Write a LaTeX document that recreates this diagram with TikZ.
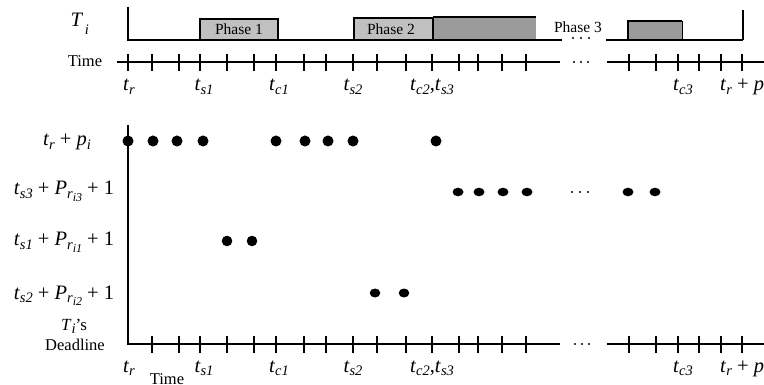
\documentclass[tikz,border=0pt]{standalone}
\usepackage{fontspec}
\setmainfont{Liberation Serif}
\newcommand\sbx[1]{\raisebox{-0.4ex}{\fontsize{14.5}{14}\selectfont\textit{#1}}}
\newcommand\ssbx[1]{\raisebox{-0.35ex}{\fontsize{12}{12}\selectfont\textit{#1}}}
\newcommand\tv[2]{\textit{#1}\sbx{#2}}
\definecolor{lightph}{RGB}{192,192,192}
\definecolor{darkph}{RGB}{155,155,155}
\begin{document}
\begin{tikzpicture}[x=1pt,y=-1pt,
  axis/.style={line width=2.8pt},
  tickmark/.style={line width=1.9pt},
  phaseline/.style={line width=2.5pt},
  lbl/.style={font=\fontsize{20.5}{22}\selectfont, inner sep=0pt, anchor=base},
  txt/.style={font=\fontsize{16.5}{18}\selectfont, inner sep=0pt, anchor=base},
  smalltxt/.style={font=\fontsize{15.5}{16}\selectfont, inner sep=0pt, anchor=base}]
\useasboundingbox (0,0) rectangle (764,385);

% ---------- top: task phases ----------
\fill[lightph] (200,19) rectangle (278,40);
\fill[lightph] (354,18) rectangle (433,40);
\fill[darkph] (433,17) rectangle (536,40);
\fill[darkph] (628,21) rectangle (682,40);
\draw[phaseline] (128,7) -- (128,40) -- (562,40);
\draw[phaseline] (606,40) -- (743,40);
\draw[line width=2pt] (743,40) -- (743,10);
\draw[phaseline] (200,40) -- (200,19) -- (278,19) -- (278,40);
\draw[phaseline] (354,40) -- (354,18) -- (433,18) -- (433,40);
\draw[phaseline] (433,17) -- (536,17);
\draw[phaseline] (628,40) -- (628,21) -- (682,21);
\draw[line width=1pt] (682,21) -- (682,40);
\node[smalltxt] (ph1) at (239,35) {Phase 1};
\node[smalltxt] (ph2) at (391,35) {Phase 2};
\node[smalltxt] (ph3) at (578,33) {Phase 3};
\foreach \x in {573,581,589} \fill (\x,38) circle (1.1);
\node[lbl] (Ti) at (77,27) {\textit{T}};
\node[smalltxt, font=\fontsize{14.5}{16}\selectfont\itshape] (Tisub) at (87,35) {i};

% ---------- top time axis ----------
\node[txt] (time1) at (85,67) {Time};
\draw[axis] (117,62) -- (560,62);
\draw[axis] (607,62) -- (764,62);
\foreach \x in {128,152,179,200,227,254,276,304,326,353,377,406,432,459,478,502,526,629,656,678,699,721,742}
  \draw[tickmark] (\x,54) -- (\x,71);
\foreach \x in {574,581,588} \fill (\x,62) circle (1.1);
\node[lbl] (a1) at (129,91) {\tv{t}{r}};
\node[lbl] (a2) at (204,91) {\tv{t}{s1}};
\node[lbl] (a3) at (279,91) {\tv{t}{c1}};
\node[lbl] (a4) at (353,91) {\tv{t}{s2}};
\node[lbl] (a5) at (432,91) {\tv{t}{c2},\tv{t}{s3}};
\node[lbl] (a6) at (683,91) {\tv{t}{c3}};
\node[lbl, anchor=base west] (a7) at (720,91) {\tv{t}{r} + \tv{p}{i}};

% ---------- bottom chart ----------
\draw[axis] (128,125) -- (128,344) -- (560,344);
\draw[axis] (607,344) -- (764,344);
\foreach \x in {152,179,200,227,254,276,304,326,353,377,406,432,459,478,502,526,629,656,678,699,721,742}
  \draw[tickmark] (\x,336) -- (\x,353);
\foreach \x in {575,582,589} \fill (\x,344) circle (1.1);
\node[lbl] (b1) at (129,372) {\tv{t}{r}};
\node[lbl] (b2) at (204,372) {\tv{t}{s1}};
\node[lbl] (b3) at (279,372) {\tv{t}{c1}};
\node[lbl] (b4) at (353,372) {\tv{t}{s2}};
\node[lbl] (b5) at (432,372) {\tv{t}{c2},\tv{t}{s3}};
\node[lbl] (b6) at (683,372) {\tv{t}{c3}};
\node[lbl, anchor=base west] (b7) at (720,372) {\tv{t}{r} + \tv{p}{i}};
\node[txt] (time2) at (167,384) {Time};

% row labels
\node[lbl] (r1) at (67,146) {\tv{t}{r} + \tv{p}{i}};
\node[lbl] (r2) at (64,195) {\tv{t}{s3} + \textit{P}\sbx{r\ssbx{i3}} + 1};
\node[lbl] (r3) at (64,246) {\tv{t}{s1} + \textit{P}\sbx{r\ssbx{i1}} + 1};
\node[lbl] (r4) at (64,299) {\tv{t}{s2} + \textit{P}\sbx{r\ssbx{i2}} + 1};
\node[txt, font=\fontsize{17}{18}\selectfont] (dl1) at (74,330) {\textit{T}\sbx{i}’s};
\node[txt] (dl2) at (75,350) {Deadline};

% dots
\foreach \x in {128,153,177,203,276,305,328,353,436} \fill (\x,141) circle (5.5);
\foreach \x in {458,479,503,527,628,655} \fill (\x,192) ellipse (5.5 and 4.3);
\foreach \x in {572,580,588} \fill (\x,192) circle (1.1);
\foreach \x in {227,252} \fill (\x,241) circle (5.3);
\foreach \x in {375,404} \fill (\x,293) ellipse (5.3 and 4.5);
\end{tikzpicture}
\end{document}
